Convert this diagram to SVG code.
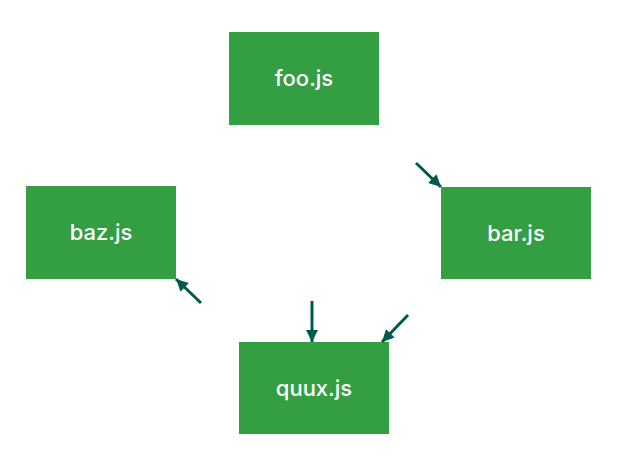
<svg xmlns="http://www.w3.org/2000/svg" width="626" height="462" viewBox="0 0 626 462">
<style>
.n{fill:#349e43}
.t{fill:#fff;font-family:Inter,"Open Sans",sans-serif;font-size:22px;font-weight:500;text-anchor:middle;dominant-baseline:central}
.e{stroke:#005a4a;stroke-width:3;fill:none;marker-end:url(#a)}
</style>
<defs>
<marker id="a" viewBox="0 0 10 10" refX="10" refY="5" markerWidth="4.5" markerHeight="4" markerUnits="strokeWidth" orient="auto">
<path d="M0,0L10,5L0,10z" fill="#005a4a"/>
</marker>
</defs>
<rect width="626" height="462" fill="#fff"/>
<g id="foo"><rect class="n" x="229" y="32" width="150" height="93"/><text class="t" x="304" y="78">foo.js</text></g>
<g id="baz"><rect class="n" x="26" y="186" width="150" height="93"/><text class="t" x="101" y="232">baz.js</text></g>
<g id="bar"><rect class="n" x="441" y="187" width="150" height="92"/><text class="t" x="516" y="233">bar.js</text></g>
<g id="quux"><rect class="n" x="239" y="342" width="150" height="92"/><text class="t" x="314" y="388">quux.js</text></g>
<g id="edges">
<line class="e" x1="416" y1="163" x2="441" y2="187"/>
<line class="e" x1="201" y1="303" x2="176" y2="279"/>
<line class="e" x1="312" y1="301" x2="312" y2="342"/>
<line class="e" x1="408" y1="315" x2="382" y2="342"/>
</g>
</svg>
